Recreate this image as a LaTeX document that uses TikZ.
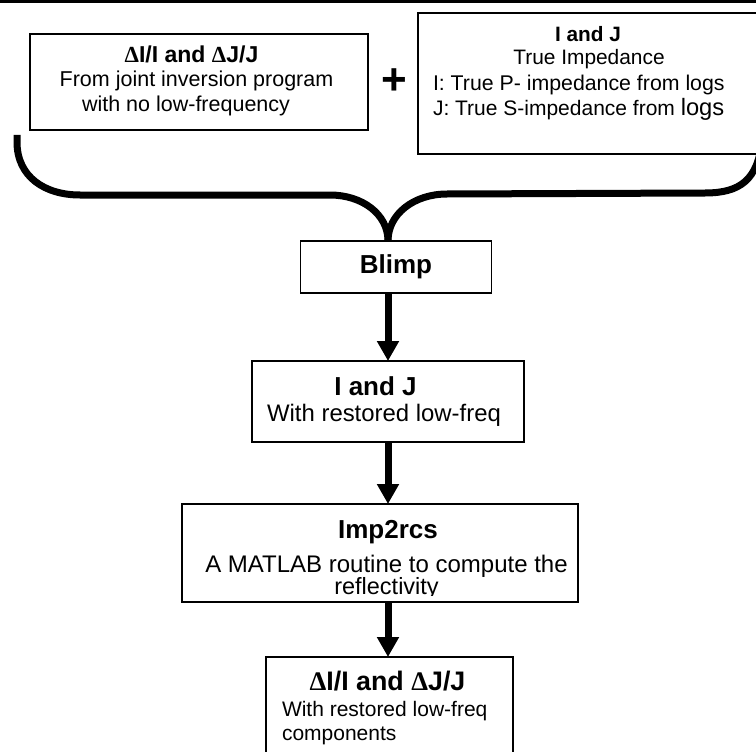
\documentclass[tikz,border=0pt]{standalone}
\usepackage{fontspec}
\setmainfont{Liberation Sans}
\newfontfamily\nf{Liberation Sans}
\newfontfamily\dl{Liberation Serif}
\usetikzlibrary{arrows.meta,calc}
\newcommand{\fs}[1]{\fontsize{#1}{#1}\selectfont}
\newcommand{\Dl}{{\dl\bfseries\symbol{"0394}}}
\begin{document}
\begin{tikzpicture}[x=1pt,y=-1pt,
  boxst/.style={draw=black,line width=1.6pt,fill=none,minimum width=#1,inner sep=0pt,outer sep=0pt},
  txt/.style={inner sep=0pt,outer sep=0pt,anchor=base},
  txtl/.style={inner sep=0pt,outer sep=0pt,anchor=base west},
  arr/.style={line width=7pt,-{Triangle[width=21pt,length=20pt]}},
  bracest/.style={line width=7pt}]
\useasboundingbox (0,0) rectangle (756,752);
\clip (0,0) rectangle (756,752);
% top rule
\coordinate (tl) at (0,1.5);
\coordinate (tr) at (756,1.5);
\draw[line width=3pt] (tl) -- (tr);
% boxes
\node[boxst=338pt,minimum height=96pt] (lbox) at (199,82) {};
\node[boxst=382pt,minimum height=141pt] (rbox) at (609,83.5) {};
\node[boxst=191pt,minimum height=52pt] (blimp) at (396,267) {};
\node[boxst=272pt,minimum height=81pt] (ij) at (388,401.5) {};
\node[boxst=396pt,minimum height=98pt] (imp) at (380,553) {};
\node[boxst=247pt,minimum height=143pt] (last) at (389.5,728.5) {};
% left box text
\node[txt] (l1) at (191.5,63) {\nf\bfseries\fs{23}\Dl I/I and \Dl J/J};
\node[txt] (l2) at (196.5,87) {\nf\fs{21.5}From joint inversion program};
\node[txt] (l3) at (186,112) {\nf\fs{21.5}with no low-frequency};
% plus
\node[txt] (plus) at (394,95) {\nf\bfseries\fs{44}+};
% right box text
\node[txt] (r1) at (588,42) {\nf\bfseries\fs{20.8}I and J};
\node[txt] (r2) at (589,65) {\nf\fs{20.9}True Impedance};
\node[txtl] (r3) at (433,90.5) {\nf\fs{21.3}I: True P- impedance from logs};
\node[txtl] (r4) at (433,116) {\nf\fs{21}J: True S-impedance from {\fs{23.7}logs}};
% brace
\coordinate (bs) at (17,135);
\coordinate (cusp) at (blimp.north -| ij.north);
\coordinate (be) at (762,140);
\draw[bracest] (bs) -- (17,142) .. controls (17,177) and (45,195) .. (80,195)
   -- (330,195) .. controls (362,195) and (388,214) .. (cusp);
\draw[bracest] (cusp) .. controls (388,214) and (414,194) .. (447,194)
   -- (705,193) .. controls (740,193) and (758,180) .. (be);
% blimp text
\node[txt] (b1) at (396,273) {\nf\bfseries\fs{26}Blimp};
% ij text
\node[txt] (i1) at (375.5,395) {\nf\bfseries\fs{26}I and J};
\node[txt] (i2) at (384,421.7) {\nf\fs{23.9}With restored low-freq};
% imp text
\node[txt] (m1) at (388,538) {\nf\bfseries\fs{26}Imp2rcs};
\node[txt] (m2) at (386.5,572) {\nf\fs{24}A MATLAB routine to compute the};
\begin{scope}
\clip (0,0) rectangle (756,595);
\node[txt] (m3) at (386.5,594) {\nf\fs{23.5}reflectivity};
\end{scope}
% last text
\node[txt] (z1) at (387.5,690) {\nf\bfseries\fs{26.8}\Dl I/I and \Dl J/J};
\node[txtl] (z2) at (282,716.7) {\nf\fs{21}With restored low-freq};
\node[txtl] (z3) at (282,740) {\nf\fs{21}components};
% arrows
\draw[arr] (blimp.south -| ij.north) -- (ij.north);
\draw[arr] (ij.south) -- (ij.south |- imp.north);
\draw[arr] (imp.south -| ij.south) -- (ij.south |- last.north);
\end{tikzpicture}
\end{document}
